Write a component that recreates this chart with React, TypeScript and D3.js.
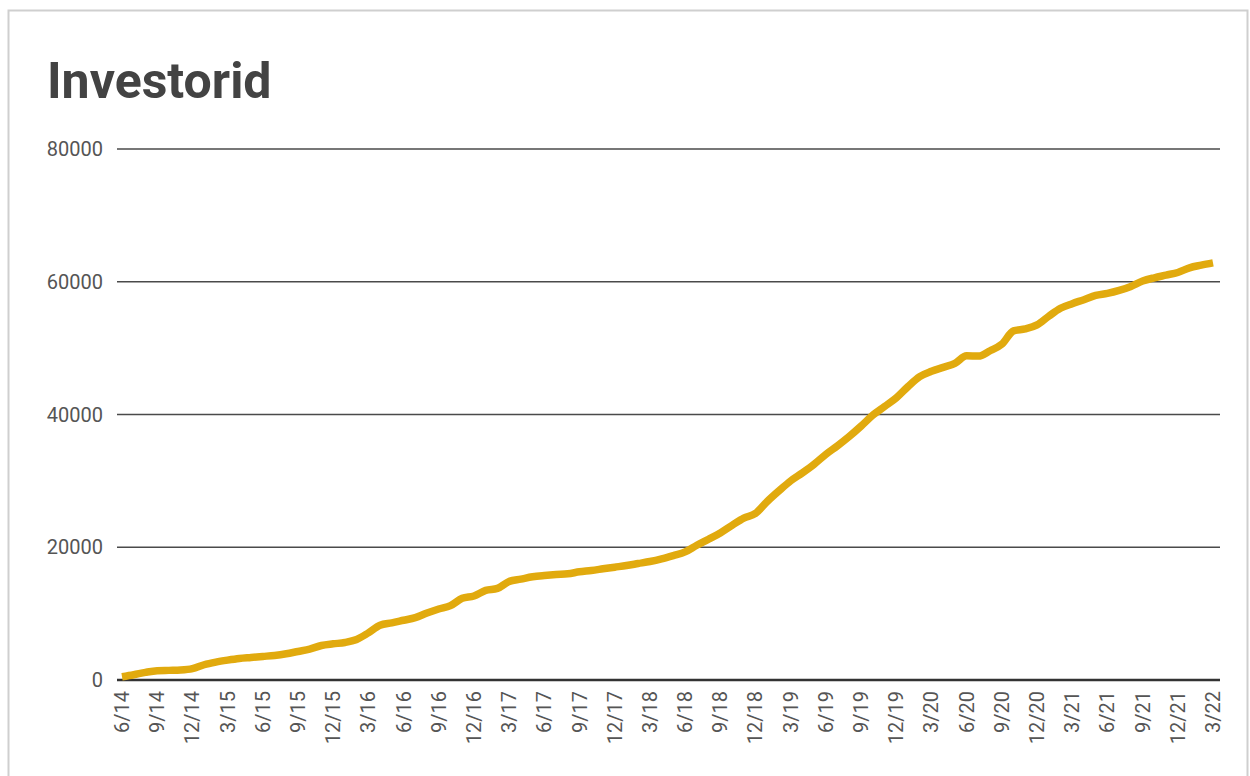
import * as React from "react";
import * as d3 from "d3";

// monthly totals, 6/14 .. 3/22
const values = [
  500, 800, 1150, 1400, 1450, 1500, 1700, 2300, 2700, 3000, 3250, 3400,
  3550, 3700, 3950, 4300, 4650, 5200, 5450, 5650, 6100, 7100, 8250, 8600,
  9000, 9400, 10100, 10700, 11200, 12300, 12650, 13500, 13800, 14850, 15200, 15550,
  15750, 15900, 16000, 16300, 16500, 16750, 17000, 17250, 17550, 17850, 18250, 18750,
  19300, 20300, 21200, 22150, 23300, 24400, 25100, 26900, 28500, 30000, 31200, 32500,
  34000, 35300, 36700, 38250, 39900, 41200, 42500, 44200, 45700, 46500, 47100, 47700,
  48850, 48800, 49600, 50600, 52600, 52900, 53500, 54800, 56000, 56700, 57300, 57950,
  58250, 58700, 59300, 60100, 60600, 61000, 61400, 62100, 62500, 62850,
];

// one label every 3 months
const quarterLabels = [
  "6/14", "9/14", "12/14", "3/15", "6/15", "9/15", "12/15", "3/16",
  "6/16", "9/16", "12/16", "3/17", "6/17", "9/17", "12/17", "3/18",
  "6/18", "9/18", "12/18", "3/19", "6/19", "9/19", "12/19", "3/20",
  "6/20", "9/20", "12/20", "3/21", "6/21", "9/21", "12/21", "3/22",
];

const yTicks = [0, 20000, 40000, 60000, 80000];

const W = 1250;
const H = 776;
const font = "Roboto, 'Noto Sans', sans-serif";

export default function App() {
  const x = d3.scaleLinear().domain([0, values.length - 1]).range([122, 1213]);
  const y = d3.scaleLinear().domain([0, 80000]).range([680, 149]);

  const line = d3
    .line<number>()
    .x((_, i) => x(i))
    .y((d) => y(d))
    .curve(d3.curveMonotoneX);

  return (
    <svg
      width={W}
      height={H}
      style={{ position: "absolute", left: 0, top: 0, background: "#fff" }}
      fontFamily={font}
    >
      <rect x={8.5} y={10.5} width={1239} height={800} fill="#fff" stroke="#cfcfcf" strokeWidth={2} />
      <text x={47} y={98} fontSize={50} fontWeight="bold" fill="#434343">
        Investorid
      </text>

      {yTicks.map((t) => (
        <g key={t}>
          <line
            x1={117}
            x2={1220}
            y1={y(t)}
            y2={y(t)}
            stroke={t === 0 ? "#333" : "#4a4a4a"}
            strokeWidth={t === 0 ? 2.5 : 1.5}
          />
          <text x={103} y={y(t)} dy="0.35em" textAnchor="end" fontSize={20} fill="#555">
            {t}
          </text>
        </g>
      ))}

      {quarterLabels.map((lab, i) => (
        <text
          key={lab}
          transform={`translate(${x(i * 3)},691) rotate(-90)`}
          dy="0.35em"
          textAnchor="end"
          fontSize={20}
          fill="#555"
        >
          {lab}
        </text>
      ))}

      <path d={line(values) || ""} fill="none" stroke="#e1aa0e" strokeWidth={7.5} strokeLinejoin="round" strokeLinecap="butt" />
    </svg>
  );
}
